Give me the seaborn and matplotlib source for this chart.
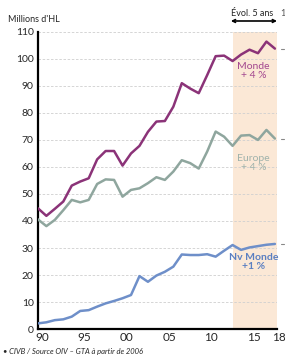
import numpy as np
import pandas as pd
import seaborn as sns
import matplotlib.pyplot as plt
from matplotlib.ticker import MultipleLocator, FixedLocator
from matplotlib.transforms import ScaledTranslation

years = list(range(1990, 2019))
monde = [44.7, 41.9, 44.5, 47.2, 53.1, 54.6, 55.8, 62.8, 65.9, 65.9,
         60.5, 65.0, 67.8, 73.0, 76.8, 77.0, 82.3, 91.0, 89.0, 87.3,
         94.0, 101.0, 101.2, 99.2, 101.6, 103.4, 102.1, 106.4, 103.8]
europe = [40.6, 38.1, 40.4, 44.0, 47.8, 46.9, 47.8, 53.7, 55.4, 55.2,
          49.0, 51.5, 52.1, 54.0, 56.2, 55.2, 58.3, 62.5, 61.4, 59.4,
          65.7, 73.1, 71.2, 67.8, 71.6, 71.8, 70.0, 73.7, 70.5]
nv_monde = [2.1, 2.5, 3.3, 3.6, 4.6, 6.7, 7.0, 8.3, 9.5, 10.4,
            11.4, 12.6, 19.6, 17.5, 19.8, 21.2, 23.1, 27.6, 27.4, 27.4,
            27.7, 26.8, 29.0, 31.1, 29.3, 30.2, 30.7, 31.2, 31.5]
series_names = ["Monde", "Europe", "Nv Monde"]
labels = ["Monde\n+ 4 %", "Europe\n+ 4 %", "Nv Monde\n+1 %"]
xtick_years = [1990, 1995, 2000, 2005, 2010, 2015, 2018]
xtick_labels = ["90", "95", "00", "05", "10", "15", "18"]

colors = {"Monde": "#8b3378", "Europe": "#8fa69e", "Nv Monde": "#6e8fc9"}
text_colors = {"Monde": "#a3478f", "Europe": "#9fb2ab", "Nv Monde": "#5a7fc2"}

df = pd.DataFrame({"Année": years, "Monde": monde, "Europe": europe, "Nv Monde": nv_monde})
long = df.melt(id_vars="Année", var_name="Zone", value_name="Volume")

sns.set_style("white")
plt.rcParams['font.family'] = ['Lato', 'DejaVu Sans']

fig = plt.figure(figsize=(2.85, 3.62), dpi=100)
ax = fig.add_axes([0.133, 0.091, 0.839, 0.821])

ax.axvspan(2013, 2018.25, color="#fbe8d6", zorder=0, lw=0)

sns.lineplot(data=long, x="Année", y="Volume", hue="Zone", palette=colors,
             linewidth=1.8, legend=False, ax=ax, zorder=3)

ax.set_xlim(1990, 2018.25)
ax.set_ylim(0, 110)
ax.set_xlabel("")
ax.set_ylabel("")
ax.set_yticks(range(0, 111, 10))
ax.set_yticklabels([str(v) for v in range(0, 111, 10)], fontsize=7.5)
ax.xaxis.set_major_locator(FixedLocator(xtick_years))
ax.set_xticklabels(xtick_labels, fontsize=8.5)
ax.xaxis.set_minor_locator(MultipleLocator(1))
ax.tick_params(axis="x", which="both", direction="in", length=2.5, width=0.8, pad=2)
ax.tick_params(axis="y", length=0, pad=3)

# shift the year labels a little to the right, like the original
shift = ScaledTranslation(3 / 72, 0, fig.dpi_scale_trans)
for lab in ax.get_xticklabels():
    lab.set_transform(lab.get_transform() + shift)

for y in range(10, 111, 10):
    ax.axhline(y, color="#cfcfcf", lw=0.6, ls=(0, (3, 2)), zorder=1)

for side in ["top", "right"]:
    ax.spines[side].set_visible(False)
for side in ["left", "bottom"]:
    ax.spines[side].set_linewidth(1.6)
    ax.spines[side].set_color("black")

label_pos = {"Monde": 95.5, "Europe": 61.5, "Nv Monde": 24.8}
ends = {"Monde": monde[-1], "Europe": europe[-1], "Nv Monde": nv_monde[-1]}
for name, lab in zip(series_names, labels):
    ax.text(2015.5, label_pos[name], lab, color=text_colors[name], fontsize=7.5,
            ha="center", va="center", linespacing=1.0, zorder=4,
            fontweight="bold" if name == "Nv Monde" else "normal")
    ax.plot([2018.75, 2019.05], [ends[name], ends[name]], color="#888888", lw=0.8,
            clip_on=False)

fig.text(0.028, 0.945, "Millions d'HL", fontsize=6.5, ha="left", va="center")
fig.text(0.81, 0.962, "Évol. 5 ans", fontsize=6.5, ha="left", va="center")
fig.text(0.985, 0.962, "1", fontsize=6.5, ha="left", va="center", color="#555555")
ax.annotate("", xy=(0.972, 0.942), xytext=(0.81, 0.942), xycoords="figure fraction",
            arrowprops=dict(arrowstyle="<->", lw=1.2, color="black",
                            shrinkA=0, shrinkB=0, mutation_scale=5))
fig.text(0.01, 0.028, "• CIVB / Source OIV – GTA à partir de 2006", fontsize=5.5,
         style="italic", ha="left", va="center")

fig.savefig("out.png", dpi=100)
